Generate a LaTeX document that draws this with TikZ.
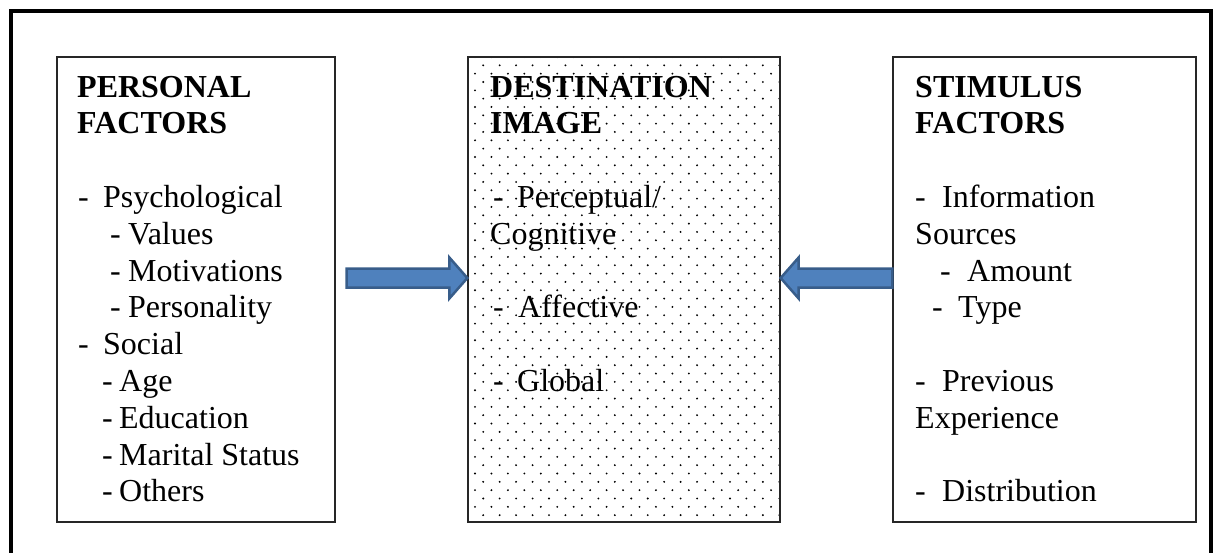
\documentclass[tikz,border=0pt]{standalone}
\usepackage{fontspec}
\setmainfont{Liberation Serif}
\usetikzlibrary{calc}

\definecolor{arrowblue}{HTML}{4F81BD}
\definecolor{arrowedge}{HTML}{385D8A}

% block arrow: tail, tip, signed head length
\newcommand{\blockarrow}[3]{%
  \filldraw[bluearrow] let \p1=(#1), \p2=(#2) in
    (\x1,{\y2+9.5pt}) -- ({\x2-(#3pt)},{\y2+9.5pt}) -- ({\x2-(#3pt)},{\y2+20.5pt})
    -- (\p2) -- ({\x2-(#3pt)},{\y2-20.5pt}) -- ({\x2-(#3pt)},{\y2-9.5pt})
    -- (\x1,{\y2-9.5pt}) -- cycle;}

\begin{document}
\begin{tikzpicture}[x=1pt, y=-1pt, font=\fontsize{32}{36.8}\selectfont]
	\tikzstyle{factorbox} = [rectangle, draw=black!85, line width=1.3pt, minimum height=465pt, inner sep=0pt]
	\tikzstyle{entry}     = [anchor=base west, inner sep=0pt]
	\tikzstyle{heading}   = [entry, font=\fontsize{32}{36.8}\selectfont\bfseries]
	\tikzstyle{bluearrow} = [fill=arrowblue, draw=arrowedge, line width=2.5pt, line join=miter]

	\useasboundingbox (0,0) rectangle (1214,552);
	\draw[line width=4.5pt] (11,11) rectangle (1211,600);

	\node[factorbox, minimum width=278pt] (pers) at (196,289.5) {};
	\node[factorbox, minimum width=312pt] (img)  at (624,289.5) {};
	\node[factorbox, minimum width=303pt] (stim) at (1044.5,289.5) {};

	% dotted fill of the middle box
	\begin{scope}
		\clip (img.north west) rectangle (img.south east);
		\foreach \i in {0,...,55}
			\foreach \j in {0,...,19}
				\fill ({475+16.45*\j+8.2*mod(\i,2)},{57+8.33*\i}) circle (1.05pt);
	\end{scope}
	\node[factorbox, minimum width=312pt] at (img) {};

	% personal factors
	\foreach \txt/\ln in {PERSONAL/0, FACTORS/1}
		\node[heading] (pf\ln) at (77,{97+36.8*\ln}) {\txt};
	\foreach \x/\g/\ln/\txt in {78/25/3/Psychological, 110/18/4/Values, 110/18/5/Motivations, 110/18/6/Personality, 78/25/7/Social, 102/17/8/Age, 102/17/9/Education, 102/17/10/Marital Status, 102/17/11/Others}
		\node[entry] (pf\ln) at (\x,{97+36.8*\ln}) {\makebox[\g pt][l]{-}\txt};

	% destination image
	\foreach \txt/\ln in {DESTINATION/0, IMAGE/1}
		\node[heading] (di\ln) at (490,{97+36.8*\ln}) {\txt};
	\foreach \x/\g/\ln/\txt in {493/24/3/{Perceptual/}, 493/25/6/Affective, 493/24/8/Global}
		\node[entry] (di\ln) at (\x,{97+36.8*\ln}) {\makebox[\g pt][l]{-}\txt};
	\node[entry] (di4) at (490,{97+36.8*4}) {Cognitive};

	% stimulus factors
	\foreach \txt/\ln in {STIMULUS/0, FACTORS/1}
		\node[heading] (sf\ln) at (915,{97+36.8*\ln}) {\txt};
	\foreach \x/\g/\ln/\txt in {915/27/3/Information, 940/27/5/Amount, 932/26/6/Type, 915/27/8/Previous, 915/27/11/Distribution}
		\node[entry] (sf\ln) at (\x,{97+36.8*\ln}) {\makebox[\g pt][l]{-}\txt};
	\foreach \txt/\ln in {Sources/4, Experience/9}
		\node[entry] (sf\ln) at (915,{97+36.8*\ln}) {\txt};

	\blockarrow{$(pers.east)+(11,0)$}{$(img.west)+(0,-11.5)$}{18}
	\blockarrow{stim.west}{$(img.east)+(0,-11.5)$}{-18}

\end{tikzpicture}
\end{document}
